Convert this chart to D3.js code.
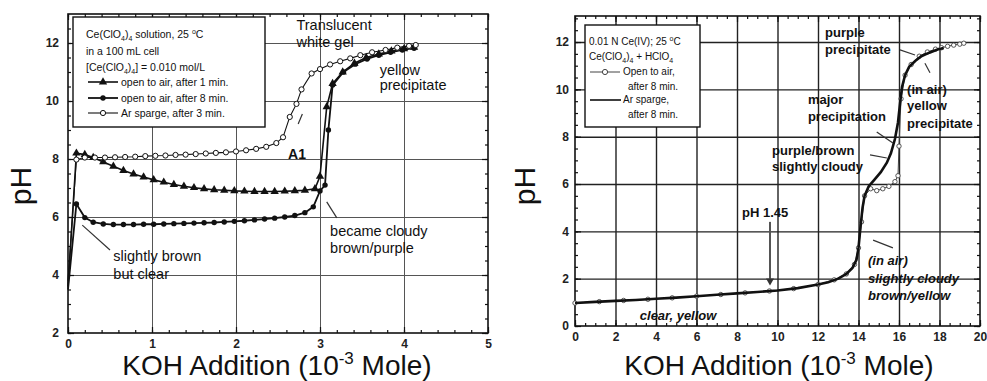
<!DOCTYPE html>
<html>
<head>
<meta charset="utf-8">
<script src="https://cdn.jsdelivr.net/npm/d3@7"></script>
<style>
body { margin: 0; background: #fff; }
svg { font-family: "Liberation Sans", Arial, sans-serif; }
.axis path { display: none; }
.axis line { stroke: #111; stroke-width: 1.2; }
.axis text { font-size: 12px; font-weight: bold; fill: #222; }
.grid path { display: none; }
.leg { font-size: 10.5px; fill: #111; }
</style>
</head>
<body>
<svg id="chart" width="987" height="381"></svg>
<script>
// ---- left panel: Ce(ClO4)4 solution ----
var oneMinX  = [0, 0.1, 0.2, 0.3, 0.42, 0.54, 0.66, 0.78, 0.9, 1.02, 1.14, 1.26, 1.38, 1.5, 1.62, 1.74, 1.86, 1.98, 2.1, 2.22, 2.34, 2.46, 2.58, 2.7, 2.82, 2.94, 3.0, 3.08, 3.15, 3.27, 3.41, 3.55, 3.7, 3.85, 4.0, 4.12];
var oneMinPH = [3.6, 8.2, 8.15, 8.05, 7.9, 7.75, 7.6, 7.48, 7.38, 7.28, 7.2, 7.12, 7.06, 7.01, 6.97, 6.94, 6.92, 6.9, 6.89, 6.88, 6.88, 6.88, 6.89, 6.9, 6.92, 6.97, 7.4, 9.8, 10.6, 11.0, 11.3, 11.5, 11.62, 11.72, 11.8, 11.85];

var eightMinX  = [0, 0.1, 0.2, 0.3, 0.42, 0.54, 0.66, 0.78, 0.9, 1.02, 1.14, 1.26, 1.38, 1.5, 1.62, 1.74, 1.86, 1.98, 2.1, 2.22, 2.34, 2.46, 2.58, 2.7, 2.82, 2.92, 3.0, 3.06, 3.1, 3.15, 3.28, 3.42, 3.56, 3.7, 3.84, 3.98, 4.12];
var eightMinPH = [3.5, 6.45, 5.98, 5.82, 5.76, 5.74, 5.74, 5.74, 5.75, 5.75, 5.76, 5.77, 5.78, 5.79, 5.8, 5.81, 5.83, 5.85, 5.87, 5.9, 5.93, 5.96, 6.0, 6.05, 6.15, 6.35, 6.9, 7.1, 9.0, 10.55, 11.0, 11.27, 11.45, 11.58, 11.68, 11.76, 11.82];

var spargeX  = [0, 0.1, 0.2, 0.32, 0.44, 0.56, 0.68, 0.8, 0.92, 1.04, 1.16, 1.28, 1.4, 1.52, 1.64, 1.76, 1.88, 2.0, 2.12, 2.24, 2.36, 2.48, 2.56, 2.64, 2.72, 2.78, 2.9, 3.0, 3.12, 3.24, 3.36, 3.48, 3.62, 3.78, 3.92, 4.06, 4.14];
var spargePH = [3.8, 7.98, 8.05, 8.05, 8.05, 8.06, 8.07, 8.08, 8.1, 8.11, 8.12, 8.14, 8.15, 8.17, 8.19, 8.21, 8.23, 8.26, 8.3, 8.35, 8.42, 8.55, 8.75, 9.45, 9.9, 10.4, 10.95, 11.1, 11.26, 11.37, 11.47, 11.58, 11.68, 11.76, 11.84, 11.9, 11.93];

// ---- right panel: 0.01 N Ce(IV) ----
var arX  = [0, 1, 2, 3, 4, 5, 6, 7, 8, 9, 10, 11, 12, 12.5, 13, 13.4, 13.7, 13.9, 14.0, 14.1, 14.2, 14.3, 14.5, 14.8, 15.1, 15.4, 15.6, 15.8, 15.95, 16.05, 16.15, 16.3, 16.5, 16.8, 17.1, 17.5, 17.9, 18.2];
var arPH = [0.97, 1.02, 1.06, 1.1, 1.15, 1.2, 1.26, 1.32, 1.38, 1.44, 1.5, 1.6, 1.75, 1.85, 2.0, 2.2, 2.45, 2.8, 3.3, 4.2, 5.0, 5.5, 5.9, 6.2, 6.5, 6.9, 7.3, 7.9, 8.6, 9.4, 10.1, 10.6, 10.95, 11.2, 11.4, 11.55, 11.68, 11.75];

var airX  = [0, 1.2, 2.4, 3.6, 4.8, 6.0, 7.2, 8.4, 9.6, 10.8, 12.0, 12.8, 13.4, 13.8, 14.0, 14.15, 14.3, 14.6, 14.9, 15.2, 15.5, 15.8, 15.95, 16.0, 16.1, 16.3, 16.6, 17.0, 17.4, 17.8, 18.1, 18.4, 18.7, 19.0, 19.2];
var airPH = [0.97, 1.03, 1.08, 1.13, 1.19, 1.26, 1.33, 1.4, 1.48, 1.58, 1.75, 1.95, 2.2, 2.6, 3.3, 4.4, 5.5, 5.8, 5.72, 5.8, 5.9, 6.1, 6.35, 7.6, 9.6, 10.6, 11.05, 11.4, 11.58, 11.7, 11.76, 11.82, 11.87, 11.91, 11.95];

var leftXTicks = [0, 1, 2, 3, 4, 5];
var leftYTicks = [2, 4, 6, 8, 10, 12];
var rightXTicks = [0, 2, 4, 6, 8, 10, 12, 14, 16, 18, 20];
var rightYTicks = [0, 2, 4, 6, 8, 10, 12];

var svg = d3.select("#chart");

function toXY(xs, ys) {
    return xs.map(function(x, i) { return [x, ys[i]]; });
}

function drawPanel(p) {
    var x = p.x, y = p.y;
    var x0 = x.range()[0], x1 = x.range()[1], yb = y.range()[0], yt = y.range()[1];
    var g = svg.append("g");

    // grid
    g.append("g").attr("class", "grid")
        .attr("transform", "translate(0," + yb + ")")
        .call(d3.axisBottom(x).tickValues(p.xGrid).tickSize(-(yb - yt)).tickFormat(""))
        .selectAll("line").attr("stroke", p.gridColor).attr("stroke-width", p.gridWidth);
    g.append("g").attr("class", "grid")
        .attr("transform", "translate(" + x0 + ",0)")
        .call(d3.axisLeft(y).tickValues(p.yGrid).tickSize(-(x1 - x0)).tickFormat(""))
        .selectAll("line").attr("stroke", p.gridColor).attr("stroke-width", p.gridWidth);

    // minor ticks on four sides
    var xm = d3.range(x.domain()[0], x.domain()[1] + 1e-9, p.xMinor);
    var ym = d3.range(Math.ceil(y.domain()[0] / p.yMinor) * p.yMinor, y.domain()[1], p.yMinor);
    g.append("g").attr("class", "axis").attr("transform", "translate(0," + yb + ")")
        .call(d3.axisBottom(x).tickValues(xm).tickSize(-3).tickFormat(""));
    g.append("g").attr("class", "axis").attr("transform", "translate(0," + yt + ")")
        .call(d3.axisTop(x).tickValues(xm).tickSize(-3).tickFormat(""));
    g.append("g").attr("class", "axis").attr("transform", "translate(" + x0 + ",0)")
        .call(d3.axisLeft(y).tickValues(ym).tickSize(-3).tickFormat(""));
    g.append("g").attr("class", "axis").attr("transform", "translate(" + x1 + ",0)")
        .call(d3.axisRight(y).tickValues(ym).tickSize(-3).tickFormat(""));

    // major ticks + labels
    g.append("g").attr("class", "axis").attr("transform", "translate(0," + yb + ")")
        .call(d3.axisBottom(x).tickValues(p.xTicks).tickSize(-6).tickPadding(p.xPad).tickFormat(d3.format("d")));
    g.append("g").attr("class", "axis").attr("transform", "translate(0," + yt + ")")
        .call(d3.axisTop(x).tickValues(p.xTicks).tickSize(-6).tickFormat(""));
    g.append("g").attr("class", "axis").attr("transform", "translate(" + x0 + ",0)")
        .call(d3.axisLeft(y).tickValues(p.yTicks).tickSize(-6).tickPadding(p.yPad).tickFormat(d3.format("d")));
    g.append("g").attr("class", "axis").attr("transform", "translate(" + x1 + ",0)")
        .call(d3.axisRight(y).tickValues(p.yTicks).tickSize(-6).tickFormat(""));

    // frame
    g.append("rect").attr("x", x0).attr("y", yt).attr("width", x1 - x0).attr("height", yb - yt)
        .attr("fill", "none").attr("stroke", "#111").attr("stroke-width", 1.6);

    // axis titles
    g.append("text")
        .attr("transform", "translate(" + p.pHpos[0] + "," + p.pHpos[1] + ") rotate(-90)")
        .attr("text-anchor", "middle").style("font-size", "30px").attr("fill", "#111")
        .text("pH");
    var t = g.append("text").attr("x", p.xTitle[0]).attr("y", p.xTitle[1])
        .attr("text-anchor", "middle").style("font-size", "28px").attr("fill", "#111");
    t.append("tspan").text("KOH Addition (10");
    t.append("tspan").attr("dy", -11).style("font-size", "17px").text("-3");
    t.append("tspan").attr("dy", 11).text(" Mole)");
    return g;
}

function lineOf(x, y) {
    return d3.line().x(function(d) { return x(d[0]); }).y(function(d) { return y(d[1]); });
}

function annotate(g, x, y, notes, size, weight) {
    notes.forEach(function(n) {
        n.lines.forEach(function(s, i) {
            g.append("text").attr("x", x(n.x)).attr("y", y(n.y[i]))
                .style("font-size", size).style("font-weight", weight)
                .style("font-style", n.italic ? "italic" : "normal")
                .attr("fill", "#111").text(s);
        });
        if (n.lead) {
            g.append("line")
                .attr("x1", x(n.lead[0])).attr("y1", y(n.lead[1]))
                .attr("x2", x(n.lead[2])).attr("y2", y(n.lead[3]))
                .attr("stroke", "#333").attr("stroke-width", 1.2);
        }
    });
}

// ================= LEFT =================
var xL = d3.scaleLinear().domain([0, 5]).range([68, 488]);
var yL = d3.scaleLinear().domain([2, 13]).range([333, 14]);
var gL = drawPanel({
    x: xL, y: yL, xGrid: [1, 2, 3, 4], yGrid: [4, 6, 8, 10, 12],
    gridColor: "#555", gridWidth: 1,
    xMinor: 0.2, yMinor: 0.5, xTicks: leftXTicks, yTicks: leftYTicks,
    xPad: 6, yPad: 9, pHpos: [31, 186], xTitle: [277, 375]
});

var lineL = lineOf(xL, yL);
var s1 = toXY(oneMinX, oneMinPH), s2 = toXY(eightMinX, eightMinPH), s3 = toXY(spargeX, spargePH);
gL.append("path").attr("d", lineL(s3)).attr("fill", "none").attr("stroke", "#111").attr("stroke-width", 1.1);
gL.append("path").attr("d", lineL(s1)).attr("fill", "none").attr("stroke", "#111").attr("stroke-width", 1.6);
gL.append("path").attr("d", lineL(s2)).attr("fill", "none").attr("stroke", "#111").attr("stroke-width", 1.8);

var tri = d3.symbol().type(d3.symbolTriangle).size(30);
gL.selectAll(".tri").data(s1.slice(1)).enter().append("path")
    .attr("d", tri).attr("fill", "#111")
    .attr("transform", function(d) { return "translate(" + xL(d[0]) + "," + yL(d[1]) + ")"; });
gL.selectAll(".dot").data(s2.slice(1)).enter().append("circle")
    .attr("cx", function(d) { return xL(d[0]); }).attr("cy", function(d) { return yL(d[1]); })
    .attr("r", 2.7).attr("fill", "#111");
gL.selectAll(".odot").data(s3.slice(1)).enter().append("circle")
    .attr("cx", function(d) { return xL(d[0]); }).attr("cy", function(d) { return yL(d[1]); })
    .attr("r", 2.6).attr("fill", "#fff").attr("stroke", "#111").attr("stroke-width", 1);

// left legend
var lg = gL.append("g");
lg.append("rect").attr("x", 73).attr("y", 17).attr("width", 192).attr("height", 110)
    .attr("fill", "#fff").attr("stroke", "#111").attr("stroke-width", 1.4);
var l1 = lg.append("text").attr("class", "leg").attr("x", 86).attr("y", 38);
l1.append("tspan").text("Ce(ClO");
l1.append("tspan").attr("dy", 3).style("font-size", "7px").text("4");
l1.append("tspan").attr("dy", -3).text(")");
l1.append("tspan").attr("dy", 3).style("font-size", "7px").text("4");
l1.append("tspan").attr("dy", -3).text(" solution, 25 ");
l1.append("tspan").attr("dy", -4).style("font-size", "7px").text("o");
l1.append("tspan").attr("dy", 4).text("C");
lg.append("text").attr("class", "leg").attr("x", 86).attr("y", 55).text("in a 100 mL cell");
var l3 = lg.append("text").attr("class", "leg").attr("x", 86).attr("y", 71);
l3.append("tspan").text("[Ce(ClO");
l3.append("tspan").attr("dy", 3).style("font-size", "7px").text("4");
l3.append("tspan").attr("dy", -3).text(")");
l3.append("tspan").attr("dy", 3).style("font-size", "7px").text("4");
l3.append("tspan").attr("dy", -3).text("] = 0.010 mol/L");
var legItems = [
    { y: 82, label: "open to air, after 1 min.", mark: "tri", w: 1.6 },
    { y: 98, label: "open to air, after 8 min.", mark: "dot", w: 1.8 },
    { y: 113, label: "Ar sparge, after 3 min.", mark: "odot", w: 1.1 }
];
legItems.forEach(function(d) {
    lg.append("line").attr("x1", 88).attr("x2", 118).attr("y1", d.y).attr("y2", d.y)
        .attr("stroke", "#111").attr("stroke-width", d.w);
    if (d.mark == "tri") lg.append("path").attr("d", tri).attr("fill", "#111").attr("transform", "translate(103," + d.y + ")");
    if (d.mark == "dot") lg.append("circle").attr("cx", 103).attr("cy", d.y).attr("r", 2.7).attr("fill", "#111");
    if (d.mark == "odot") lg.append("circle").attr("cx", 103).attr("cy", d.y).attr("r", 2.6).attr("fill", "#fff").attr("stroke", "#111");
    lg.append("text").attr("class", "leg").attr("x", 121).attr("y", d.y + 4).text(d.label);
});

annotate(gL, xL, yL, [
    { x: 2.72, y: [12.45, 11.85], lines: ["Translucent", "white gel"] },
    { x: 3.71, y: [10.9, 10.38], lines: ["yellow", "precipitate"] },
    { x: 3.12, y: [5.34, 4.76], lines: ["became cloudy", "brown/purple"], lead: [3.08, 6.52, 3.2, 5.97] },
    { x: 0.54, y: [4.48, 3.86], lines: ["slightly brown", "but clear"], lead: [0.17, 5.72, 0.5, 4.86] }
], "14.5px", "normal");
annotate(gL, xL, yL, [
    { x: 2.62, y: [8.0], lines: ["A1"], lead: [2.74, 9.21, 2.79, 9.55] }
], "14px", "bold");

// ================= RIGHT =================
var xR = d3.scaleLinear().domain([0, 20]).range([575, 980]);
var yR = d3.scaleLinear().domain([0, 13.1]).range([326, 16]);
var gR = drawPanel({
    x: xR, y: yR, xGrid: [2, 4, 6, 8, 10, 12, 14, 16, 18], yGrid: [2, 4, 6, 8, 10, 12],
    gridColor: "#222", gridWidth: 1.4,
    xMinor: 0.5, yMinor: 0.5, xTicks: rightXTicks, yTicks: rightYTicks,
    xPad: 6, yPad: 6, pHpos: [535, 186], xTitle: [779, 375]
});

var lineR = lineOf(xR, yR);
var sa = toXY(airX, airPH), sr = toXY(arX, arPH);
gR.append("path").attr("d", lineR(sa)).attr("fill", "none").attr("stroke", "#444").attr("stroke-width", 1);
gR.selectAll(".odot").data(sa).enter().append("circle")
    .attr("cx", function(d) { return xR(d[0]); }).attr("cy", function(d) { return yR(d[1]); })
    .attr("r", 2.2).attr("fill", "#fff").attr("stroke", "#444").attr("stroke-width", 0.9);
gR.append("path").attr("d", lineR(sr)).attr("fill", "none").attr("stroke", "#111").attr("stroke-width", 2.6);

// right legend
var rg = gR.append("g");
rg.append("rect").attr("x", 585).attr("y", 25).attr("width", 115).attr("height", 102)
    .attr("fill", "#fff").attr("stroke", "#111").attr("stroke-width", 1.4);
var r1 = rg.append("text").attr("class", "leg").style("font-size", "10px").attr("x", 589).attr("y", 45);
r1.append("tspan").text("0.01 N Ce(IV); 25 ");
r1.append("tspan").attr("dy", -4).style("font-size", "7px").text("o");
r1.append("tspan").attr("dy", 4).text("C");
var r2 = rg.append("text").attr("class", "leg").style("font-size", "10px").attr("x", 589).attr("y", 60);
r2.append("tspan").text("Ce(ClO");
r2.append("tspan").attr("dy", 3).style("font-size", "7px").text("4");
r2.append("tspan").attr("dy", -3).text(")");
r2.append("tspan").attr("dy", 3).style("font-size", "7px").text("4");
r2.append("tspan").attr("dy", -3).text(" + HClO");
r2.append("tspan").attr("dy", 3).style("font-size", "7px").text("4");
rg.append("line").attr("x1", 590).attr("x2", 620).attr("y1", 72).attr("y2", 72).attr("stroke", "#444").attr("stroke-width", 1);
rg.append("circle").attr("cx", 605).attr("cy", 72).attr("r", 2.6).attr("fill", "#fff").attr("stroke", "#444");
rg.append("text").attr("class", "leg").style("font-size", "10px").attr("x", 623).attr("y", 75).text("Open to air,");
rg.append("text").attr("class", "leg").style("font-size", "10px").attr("x", 628).attr("y", 90).text("after 8 min.");
rg.append("line").attr("x1", 590).attr("x2", 621).attr("y1", 100).attr("y2", 100).attr("stroke", "#111").attr("stroke-width", 1.6);
rg.append("text").attr("class", "leg").style("font-size", "10px").attr("x", 623).attr("y", 103).text("Ar sparge,");
rg.append("text").attr("class", "leg").style("font-size", "10px").attr("x", 628).attr("y", 118).text("after 8 min.");

annotate(gR, xR, yR, [
    { x: 12.35, y: [12.2, 11.5], lines: ["purple", "precipitate"], lead: [16.05, 11.67, 16.79, 11.45] },
    { x: 16.4, y: [9.8, 9.13, 8.37], lines: ["(in air)", "yellow", "precipitate"], lead: [17.28, 11.1, 17.53, 10.7] },
    { x: 11.5, y: [9.38, 8.66], lines: ["major", "precipitation"], lead: [14.9, 8.2, 15.7, 7.73] },
    { x: 9.73, y: [7.23, 6.55], lines: ["purple/brown", "slightly cloudy"], lead: [14.57, 7.23, 15.4, 7.1] },
    { x: 8.25, y: [4.6], lines: ["pH 1.45"] }
], "13px", "bold");
annotate(gR, xR, yR, [
    { x: 14.47, y: [2.58, 1.82, 1.1], lines: ["(in air)", "slightly cloudy", "brown/yellow"], italic: true, lead: [14.72, 3.63, 15.7, 3.3] },
    { x: 3.2, y: [0.25], lines: ["clear, yellow"], italic: true }
], "13px", "bold");

// pH 1.45 arrow
gR.append("line").attr("x1", xR(9.63)).attr("x2", xR(9.63)).attr("y1", yR(4.4)).attr("y2", yR(1.95))
    .attr("stroke", "#555").attr("stroke-width", 2);
gR.append("path")
    .attr("d", d3.symbol().type(d3.symbolTriangle).size(28))
    .attr("fill", "#333")
    .attr("transform", "translate(" + xR(9.63) + "," + (yR(1.95) + 1) + ") rotate(180)");
</script>
</body>
</html>
